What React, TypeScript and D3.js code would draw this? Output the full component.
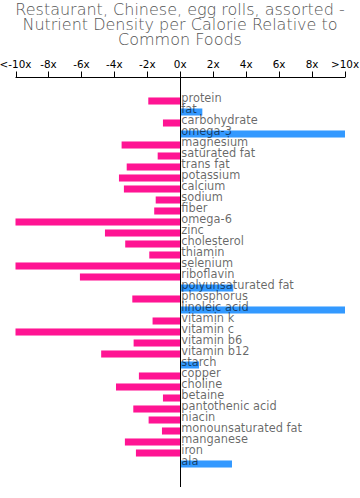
import React from "react";
import * as d3 from "d3";

const titleLines = [
  "Restaurant, Chinese, egg rolls, assorted -",
  "Nutrient Density per Calorie Relative to",
  "Common Foods",
];

const nutrients = [
  "protein", "fat", "carbohydrate", "omega-3", "magnesium", "saturated fat",
  "trans fat", "potassium", "calcium", "sodium", "fiber", "omega-6", "zinc",
  "cholesterol", "thiamin", "selenium", "riboflavin", "polyunsaturated fat",
  "phosphorus", "linoleic acid", "vitamin k", "vitamin c", "vitamin b6",
  "vitamin b12", "starch", "copper", "choline", "betaine", "pantothenic acid",
  "niacin", "monounsaturated fat", "manganese", "iron", "ala",
];

const densities = [
  -1.94, 1.34, -1.05, 10, -3.56, -1.37, -3.25, -3.72, -3.42, -1.49, -1.58, -10,
  -4.57, -3.34, -1.88, -10, -6.09, 3.22, -2.91, 10, -1.68, -10, -2.83, -4.8,
  1.14, -2.51, -3.9, -1.05, -2.85, -1.92, -1.11, -3.36, -2.69, 3.14,
];

const tickValues = [-10, -8, -6, -4, -2, 0, 2, 4, 6, 8, 10];
const tickLabels = ["<-10x", "-8x", "-6x", "-4x", "-2x", "0x", "2x", "4x", "6x", "8x", ">10x"];

const W = 360;
const H = 498;
const FONT = "DejaVu Sans";

export default function App() {
  const x = d3.scaleLinear().domain([-10, 10]).range([15.5, 345]);
  const y = d3
    .scaleBand<string>()
    .domain(nutrients)
    .range([95.5, 469.5])
    .paddingInner(0.36)
    .paddingOuter(0.18);
  const axisY = 77.5;
  const x0 = x(0);

  return (
    <svg
      width={W}
      height={H}
      style={{ position: "absolute", left: 0, top: 0, fontFamily: FONT }}
    >
      <rect width={W} height={H} fill="#fff" />
      {titleLines.map((t, i) => (
        <text
          key={t}
          x={180}
          y={15 + i * 15}
          textAnchor="middle"
          fontSize={16}
          fontWeight={200}
          fill="#555"
          style={{ fontFamily: FONT }}
        >
          {t}
        </text>
      ))}
      <line x1={x(-10)} x2={x(10)} y1={axisY} y2={axisY} stroke="#000" strokeWidth={1} />
      {tickValues.map((v, i) => (
        <g key={v}>
          <line
            x1={Math.round(x(v)) + 0.5}
            x2={Math.round(x(v)) + 0.5}
            y1={axisY}
            y2={axisY - 6}
            stroke="#000"
          />
          <text
            x={x(v)}
            y={68}
            textAnchor="middle"
            fontSize={10.4}
            fill="#000"
            style={{ fontFamily: FONT }}
          >
            {tickLabels[i]}
          </text>
        </g>
      ))}
      {nutrients.map((n, i) => {
        const v = densities[i];
        const bx = v < 0 ? x(v) : x0;
        const bw = Math.abs(x(v) - x0);
        return (
          <rect
            key={n}
            x={bx}
            y={y(n)!}
            width={bw}
            height={y.bandwidth()}
            fill={v < 0 ? "#FF1493" : "#3399FF"}
          />
        );
      })}
      {nutrients.map((n) => (
        <text
          key={n}
          x={x0 + 1}
          y={y(n)! + y.bandwidth() / 2 + 1.2}
          fontSize={11.4}
          fill="#000"
          fillOpacity={0.6}
          style={{ fontFamily: FONT }}
        >
          {n}
        </text>
      ))}
      <line
        x1={Math.round(x0) + 0.5}
        x2={Math.round(x0) + 0.5}
        y1={axisY}
        y2={487}
        stroke="#000"
        strokeWidth={1}
      />
    </svg>
  );
}
